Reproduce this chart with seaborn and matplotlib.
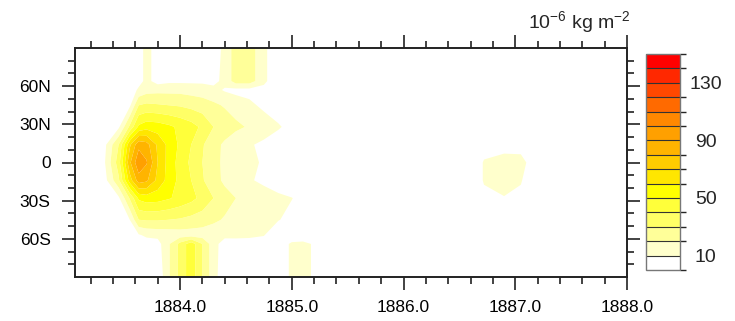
import numpy as np
import matplotlib
matplotlib.use("Agg")
import matplotlib.pyplot as plt
import seaborn as sns
from matplotlib.colors import ListedColormap, BoundaryNorm
from matplotlib.cm import ScalarMappable
from matplotlib.ticker import FixedLocator

# Time axis (decimal years) and latitude nodes of the zonal-mean aerosol field
times = [1883.04, 1883.30, 1883.45, 1883.55, 1883.63, 1883.70, 1883.80, 1883.90,
         1884.00, 1884.10, 1884.20, 1884.30, 1884.40, 1884.50, 1884.62, 1884.75,
         1884.88, 1885.00, 1885.10, 1885.22, 1885.35, 1886.60, 1886.72, 1886.90,
         1887.05, 1887.18, 1888.00]
lats = [-90, -64, -57, -45, -28, -14, 0, 14, 28, 45, 57, 64, 90]

# Sulfate aerosol loading (10^-6 kg m^-2), one list per latitude, one value per time
load_90s = [0, 0, 0, 0, 0, 0, 2, 19, 33, 46, 30, 14, 3, 2, 2, 2, 3, 12, 13, 8, 0, 0, 0, 0, 0, 0, 0]
load_64s = [0, 0, 0, 0, 3, 5, 6, 19, 33, 46, 30, 14, 5, 6, 6, 6, 3, 12, 13, 8, 0, 0, 0, 0, 0, 0, 0]
load_57s = [0, 0, 0, 2, 9, 12, 13, 14, 15, 15, 15, 14, 13, 12.5, 12, 10.5, 3, 2, 2, 1, 0, 0, 0, 0, 0, 0, 0]
load_45s = [0, 0, 1, 10, 30, 31, 31, 30, 29, 27, 25, 22, 19, 17, 15, 13, 10.5, 7, 4, 1, 0, 0, 0, 0, 0, 0, 0]
load_28s = [0, 0, 8, 31, 52, 55, 54, 51, 47, 43, 37, 30, 24, 20, 17, 14.5, 12, 10.3, 7, 3, 0, 0, 7, 9.5, 7, 0, 0]
load_14s = [0, 2, 28, 65, 85, 82, 67, 56, 47, 40, 31, 24, 18, 14, 11, 8, 5, 2, 0, 0, 0, 0, 11, 14, 11, 0, 0]
load_eq = [0, 4, 35, 78, 98, 91, 70, 56, 46, 38, 30, 23, 18, 15, 12, 9, 6, 3, 1, 0, 0, 0, 11, 14, 16, 0, 0]
load_14n = [0, 3, 30, 68, 87, 84, 68, 57, 48, 40, 31, 24, 18, 14, 11, 8, 5, 3, 1, 0, 0, 0, 5, 6, 3, 0, 0]
load_28n = [0, 0, 8, 32, 52, 56, 55, 52, 48, 44, 38, 30, 26, 22, 19, 15, 11, 7, 4, 1, 0, 0, 0, 0, 0, 0, 0]
load_45n = [0, 0, 0, 8, 30, 32, 31, 30, 29, 27, 25, 22, 19, 16, 12, 8, 5, 2, 0, 0, 0, 0, 0, 0, 0, 0, 0]
load_57n = [0, 0, 0, 3, 12, 16, 17, 17, 17, 16, 15, 13, 9, 7, 7, 6, 3, 0, 0, 0, 0, 0, 0, 0, 0, 0, 0]
load_64n = [0, 0, 0, 0, 6, 13, 6, 8, 8, 8, 8, 7, 13, 25, 25, 13, 0, 0, 0, 0, 0, 0, 0, 0, 0, 0, 0]
load_90n = [0, 0, 0, 0, 6, 13, 6, 4, 4, 4, 4, 4, 13, 25, 25, 13, 0, 0, 0, 0, 0, 0, 0, 0, 0, 0, 0]

# Shading levels and label bar
levels = list(range(0, 160, 10))
bar_ticks = [10, 50, 90, 130]
shade_colors = ["#FFFFFF", "#FFFFCC", "#FFFF99", "#FFFF66", "#FFFF3A", "#FFFF00",
                "#FFE600", "#FFCC00", "#FFB400", "#FFA000", "#FF8800", "#FF6A00",
                "#FF4800", "#FF2800", "#FF0000"]
x_major = [1884, 1885, 1886, 1887, 1888]
x_major_labels = ["1884.0", "1885.0", "1886.0", "1887.0", "1888.0"]
y_major = [-60, -30, 0, 30, 60]
y_major_labels = ["60S", "30S", "0", "30N", "60N"]
units = "10$^{-6}$ kg m$^{-2}$"

sns.set_theme(style="ticks")
plt.rcParams["font.family"] = ["Liberation Sans", "DejaVu Sans"]
plt.rcParams["mathtext.default"] = "regular"

W, H = 735, 321
fig = plt.figure(figsize=(W / 100, H / 100), dpi=100)
fig.patch.set_facecolor("white")
ax = fig.add_axes([75 / W, 1 - 277 / H, (627 - 75) / W, (277 - 48) / H])
cax = fig.add_axes([646 / W, 1 - 270 / H, 34 / W, (270 - 54) / H])

field = np.array([load_90s, load_64s, load_57s, load_45s, load_28s, load_14s, load_eq,
                  load_14n, load_28n, load_45n, load_57n, load_64n, load_90n], dtype=float)

palette = sns.color_palette(shade_colors)
ax.contourf(times, lats, field, levels=levels, colors=palette, antialiased=True)

ax.set_xlim(1883.06, 1888.0)
ax.set_ylim(-90, 90)
ax.xaxis.set_major_locator(FixedLocator(x_major))
ax.set_xticklabels(x_major_labels)
ax.xaxis.set_minor_locator(FixedLocator([y + f for y in range(1883, 1888)
                                         for f in (0.2, 0.4, 0.6, 0.8)]))
ax.yaxis.set_major_locator(FixedLocator(y_major))
ax.set_yticklabels(y_major_labels)
ax.yaxis.set_minor_locator(FixedLocator([-80, -70, -50, -40, -20, -10, 10, 20, 40, 50, 70, 80]))

edge = "#222222"
for s in ax.spines.values():
    s.set_color(edge)
    s.set_linewidth(1.4)
ax.tick_params(which="both", direction="out", top=True, right=True,
               color=edge, width=1.2, labelcolor="black")
ax.tick_params(which="major", length=9.5, labelsize=12.5)
ax.tick_params(axis="x", which="major", pad=7)
ax.tick_params(axis="y", which="major", pad=8)
ax.tick_params(which="minor", length=5)
ax.tick_params(labeltop=False, labelright=False)

cmap = ListedColormap(palette)
norm = BoundaryNorm(levels, cmap.N)
cb = fig.colorbar(ScalarMappable(norm=norm, cmap=cmap), cax=cax,
                  drawedges=True, ticks=bar_ticks)
cb.outline.set_edgecolor("#777777")
cb.outline.set_linewidth(1.0)
cb.dividers.set_color("#333333")
cb.dividers.set_linewidth(0.8)
cax.tick_params(length=0, labelsize=14, pad=18.5)
for lab in cax.get_yticklabels():
    lab.set_horizontalalignment("center")

fig.text(631 / W, 1 - 28 / H, units, ha="right", va="baseline", fontsize=14)

fig.savefig("out.png", dpi=100, facecolor="white")
